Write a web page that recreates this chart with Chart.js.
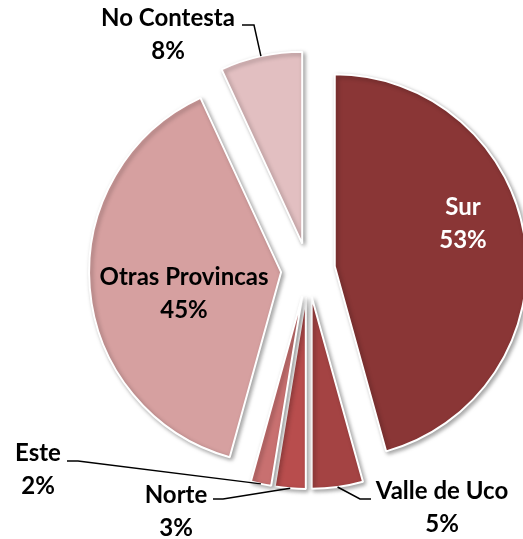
<!DOCTYPE html>
<html>
<head>
<meta charset="utf-8">
<script src="https://cdn.jsdelivr.net/npm/chart.js@4/dist/chart.umd.min.js"></script>
<style>
  html, body { margin: 0; padding: 0; background: #fff; }
  #wrap { width: 523px; height: 539px; }
</style>
</head>
<body>
<div id="wrap"><canvas id="grafico" width="523" height="539"></canvas></div>
<script>
const regiones = ['Sur', 'Valle de Uco', 'Norte', 'Este', 'Otras Provincas', 'No Contesta'];
const porcentajes = [53, 5, 3, 2, 45, 8];
const colores = ['#8a3636', '#a44343', '#b84d4d', '#c87070', '#d6a0a0', '#e2bfc1'];

// label layout (text centre of first line) and leader lines for outside labels
const etiquetas = [
    { x: 463, y: 207, color: '#fff' },
    { x: 442, y: 491, color: '#000', linea: [[371, 499], [360, 499]] },
    { x: 176, y: 495, color: '#000', linea: [[213, 499], [223, 499]] },
    { x: 38,  y: 453, color: '#000', linea: [[67, 461], [78, 461]] },
    { x: 184, y: 277, color: '#000' },
    { x: 168, y: 18,  color: '#000', linea: [[242, 25], [254, 25]] }
];

const separacion = 27;

// move every slice out along its bisector
const explotar = {
    id: 'explotar',
    afterDatasetsUpdate(chart) {
        chart.getDatasetMeta(0).data.forEach(arc => {
            const mid = (arc.startAngle + arc.endAngle) / 2;
            arc.x += Math.cos(mid) * separacion;
            arc.y += Math.sin(mid) * separacion;
        });
    },
    beforeDatasetsDraw(chart) {
        const ctx = chart.ctx;
        ctx.save();
        ctx.shadowColor = 'rgba(0,0,0,0.35)';
        ctx.shadowBlur = 4;
        ctx.shadowOffsetX = 2;
        ctx.shadowOffsetY = 2;
    },
    afterDatasetsDraw(chart) {
        chart.ctx.restore();
    }
};

const rotulos = {
    id: 'rotulos',
    afterDraw(chart) {
        const ctx = chart.ctx;
        const arcs = chart.getDatasetMeta(0).data;
        ctx.save();
        ctx.font = 'bold 24px Lato';
        ctx.textAlign = 'center';
        ctx.textBaseline = 'middle';
        arcs.forEach((arc, i) => {
            const e = etiquetas[i];
            if (e.linea) {
                const mid = (arc.startAngle + arc.endAngle) / 2;
                const ax = arc.x + Math.cos(mid) * arc.outerRadius;
                const ay = arc.y + Math.sin(mid) * arc.outerRadius;
                ctx.beginPath();
                ctx.moveTo(e.linea[0][0], e.linea[0][1]);
                ctx.lineTo(e.linea[1][0], e.linea[1][1]);
                ctx.lineTo(ax, ay);
                ctx.strokeStyle = '#000';
                ctx.lineWidth = 1.5;
                ctx.stroke();
            }
            ctx.fillStyle = e.color;
            ctx.fillText(regiones[i], e.x, e.y);
            ctx.fillText(porcentajes[i] + '%', e.x, e.y + 33);
        });
        ctx.restore();
    }
};

new Chart(document.getElementById('grafico'), {
    type: 'pie',
    data: {
        labels: regiones,
        datasets: [{
            data: porcentajes,
            backgroundColor: colores,
            borderColor: '#fff',
            borderWidth: 2,
            clip: false
        }]
    },
    options: {
        responsive: false,
        animation: false,
        radius: 192,
        layout: { padding: { left: 93, right: 0, top: 1, bottom: 0 } },
        plugins: {
            legend: { display: false },
            tooltip: { enabled: false }
        }
    },
    plugins: [explotar, rotulos]
});
</script>
</body>
</html>
